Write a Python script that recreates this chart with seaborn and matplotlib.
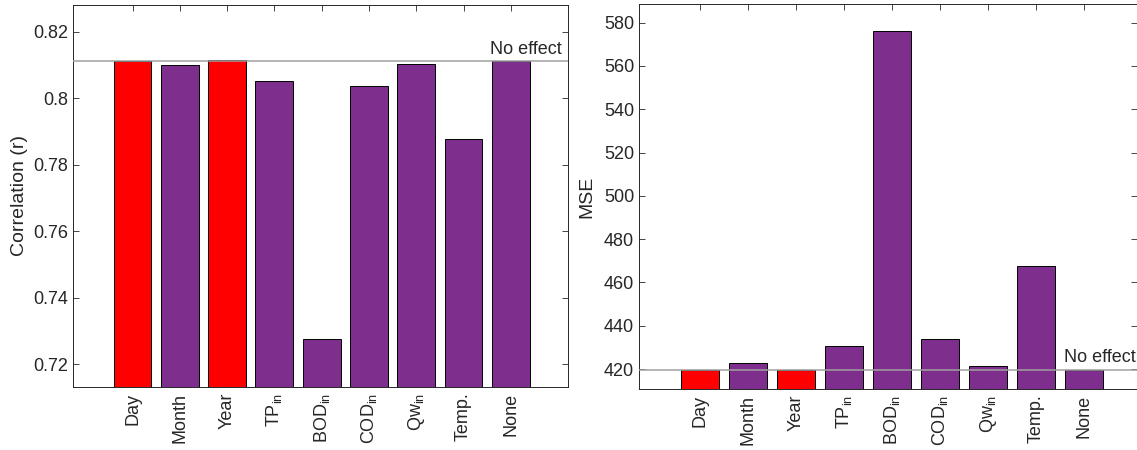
import matplotlib
matplotlib.use("Agg")
import matplotlib.pyplot as plt
import seaborn as sns
import numpy as np
import pandas as pd
from matplotlib.ticker import FuncFormatter

categories = ["Day", "Month", "Year", "TP$_{\\mathrm{in}}$", "BOD$_{\\mathrm{in}}$",
              "COD$_{\\mathrm{in}}$", "Qw$_{\\mathrm{in}}$", "Temp.", "None"]
corr_values = [0.8113, 0.8099, 0.8114, 0.8053, 0.7275, 0.8037, 0.8102, 0.7876, 0.8113]
mse_values = [419.5, 422.8, 419.5, 430.6, 576.0, 434.0, 421.4, 467.4, 419.8]
corr_no_effect = 0.8113
mse_no_effect = 419.8
highlight = ["Day", "Year"]

RED = "#FF0000"
PURPLE = "#7E2F8E"
AXC = "#262626"

sns.set_style("white")
plt.rcParams["font.family"] = ["Liberation Sans", "DejaVu Sans"]
plt.rcParams["mathtext.fontset"] = "custom"
plt.rcParams["mathtext.rm"] = "Liberation Sans"
plt.rcParams["mathtext.it"] = "Liberation Sans:italic"

fig = plt.figure(figsize=(11.37, 4.5), dpi=100)
W, H = 1137, 450
ax1 = fig.add_axes([73 / W, (H - 387) / H, 495 / W, 382 / H])
ax2 = fig.add_axes([639 / W, (H - 389) / H, 498 / W, 385 / H])


def fmt(v, pos):
    s = f"{v:.2f}".rstrip("0").rstrip(".")
    return s


def draw(ax, vals, ylim, xlim, yticks, ylabel, ref, text_y_off, text_x, formatter=None):
    df = pd.DataFrame({"cat": categories, "val": vals})
    pal = {c: (RED if c in highlight else PURPLE) for c in categories}
    sns.barplot(data=df, x="cat", y="val", hue="cat", palette=pal, legend=False,
                width=0.8, edgecolor="black", linewidth=0.7, saturation=1, ax=ax)
    ax.set_ylim(*ylim)
    ax.set_xlim(*xlim)
    ax.axhline(ref, color="#a0a0a0", lw=1.1, zorder=5)
    ax.text(text_x, ref + text_y_off, "No effect", transform=ax.get_yaxis_transform(),
            ha="right", va="bottom", fontsize=13, color=AXC)
    ax.set_yticks(yticks)
    if formatter:
        ax.yaxis.set_major_formatter(FuncFormatter(formatter))
    ax.set_xticks(range(len(categories)))
    ax.set_xticklabels(categories, rotation=90, fontsize=13, color=AXC)
    ax.tick_params(axis="y", labelsize=13, colors=AXC)
    ax.tick_params(direction="in", length=4, width=0.6, top=True, right=True,
                   bottom=True, left=True, color=AXC)
    ax.tick_params(axis="x", pad=4)
    ax.set_xlabel("")
    ax.set_ylabel(ylabel, fontsize=14, color=AXC)
    for s in ax.spines.values():
        s.set_visible(True)
        s.set_color(AXC)
        s.set_linewidth(0.7)


draw(ax1, corr_values, (0.7132, 0.828), (-1.26, 9.21),
     [0.72, 0.74, 0.76, 0.78, 0.80, 0.82], "Correlation (r)", corr_no_effect, 0.0008, 0.988, fmt)
draw(ax2, mse_values, (410.8, 588.6), (-1.27, 9.1),
     [420, 440, 460, 480, 500, 520, 540, 560, 580], "MSE", mse_no_effect, 1.5, 0.998)
ax1.yaxis.labelpad = 4
ax2.yaxis.labelpad = 6

fig.savefig("out.png", dpi=100)
